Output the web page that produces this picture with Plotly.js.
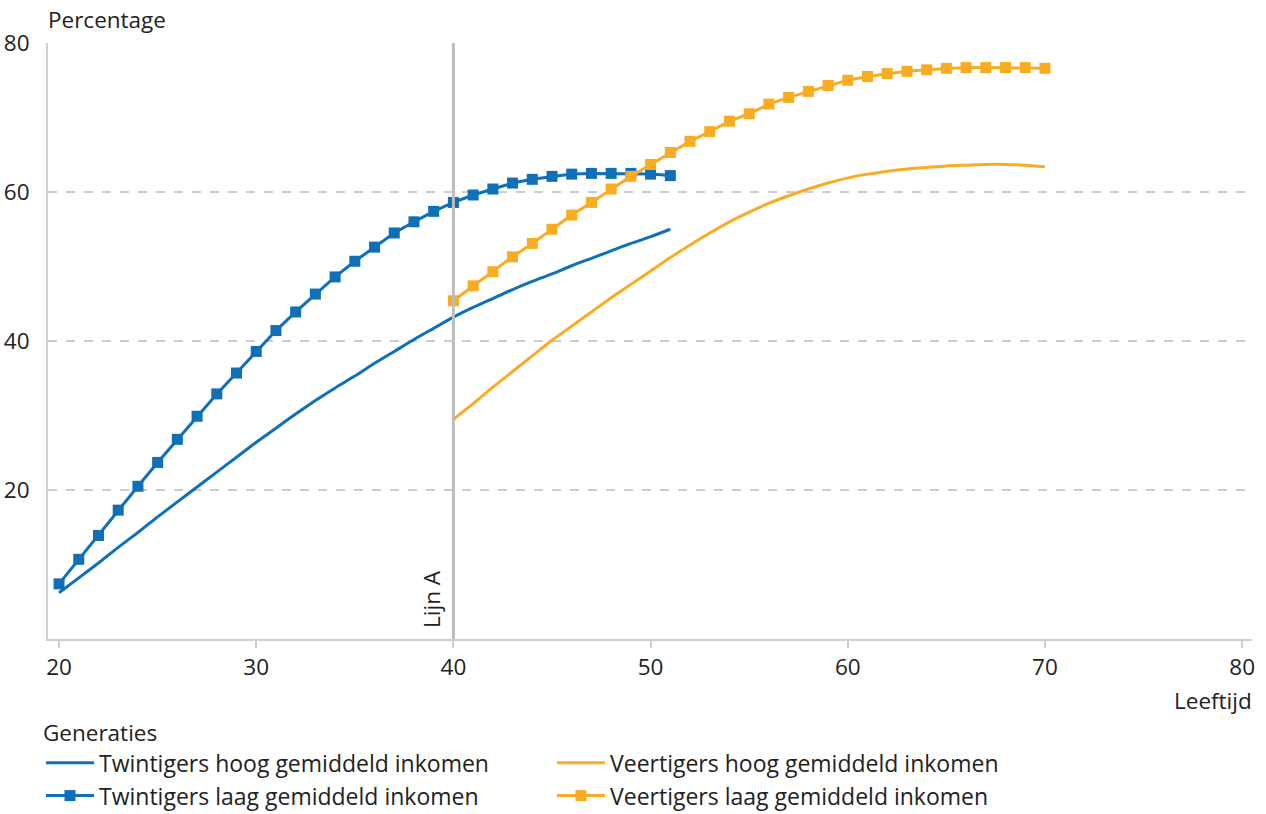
<!DOCTYPE html>
<html>
<head>
<meta charset="utf-8">
<script src="https://cdn.plot.ly/plotly-3.0.1.min.js"></script>
<style>
  html, body { margin: 0; padding: 0; background: #fff; }
  #chart { width: 1266px; height: 814px; }
</style>
</head>
<body>
<div id="chart"></div>
<script>
// ---- Data ----
const ageTwintigers = [20,21,22,23,24,25,26,27,28,29,30,31,32,33,34,35,36,37,38,39,40,41,42,43,44,45,46,47,48,49,50,51];
const twintigersHoog = [6.2,8.2,10.2,12.3,14.3,16.4,18.4,20.4,22.4,24.4,26.4,28.3,30.2,32.0,33.7,35.3,37.0,38.6,40.2,41.7,43.2,44.5,45.7,46.9,48.0,49.0,50.1,51.1,52.1,53.1,54.0,55.0];
const twintigersLaag = [7.4,10.7,13.9,17.3,20.5,23.7,26.8,29.9,32.9,35.7,38.6,41.4,43.9,46.3,48.6,50.7,52.6,54.5,56.0,57.4,58.6,59.6,60.4,61.2,61.7,62.1,62.4,62.5,62.5,62.5,62.4,62.2];

const ageVeertigers = [40,41,42,43,44,45,46,47,48,49,50,51,52,53,54,55,56,57,58,59,60,61,62,63,64,65,66,67,68,69,70];
const veertigersHoog = [29.5,31.6,33.8,35.9,38.0,40.1,42.0,43.9,45.8,47.6,49.4,51.2,52.9,54.5,56.0,57.3,58.5,59.5,60.4,61.2,61.9,62.4,62.8,63.1,63.3,63.5,63.6,63.7,63.7,63.6,63.4];
const veertigersLaag = [45.4,47.4,49.3,51.3,53.1,55.0,56.9,58.6,60.4,62.1,63.7,65.3,66.8,68.1,69.5,70.5,71.8,72.7,73.5,74.3,75.0,75.5,75.9,76.2,76.4,76.6,76.7,76.7,76.7,76.7,76.6];

const seriesNames = [
  'Twintigers hoog gemiddeld inkomen',
  'Veertigers hoog gemiddeld inkomen',
  'Twintigers laag gemiddeld inkomen',
  'Veertigers laag gemiddeld inkomen'
];
const xTicks = [20,30,40,50,60,70,80];
const yTicks = [20,40,60,80];
const refLineX = 40;
const refLineLabel = 'Lijn A';

// ---- Styling ----
const BLUE = '#0f6fb7';
const ORANGE = '#f9ac22';
const FONT = '"Open Sans", "Noto Sans", sans-serif';
const TEXT = '#222222';
const FS = 22.5;

const traces = [
  { x: ageTwintigers, y: twintigersHoog, name: seriesNames[0], mode: 'lines',
    line: { color: BLUE, width: 3, shape: 'spline', smoothing: 0.6 } },
  { x: ageVeertigers, y: veertigersHoog, name: seriesNames[1], mode: 'lines',
    line: { color: ORANGE, width: 3, shape: 'spline', smoothing: 0.6 } },
  { x: ageTwintigers, y: twintigersLaag, name: seriesNames[2], mode: 'lines+markers',
    line: { color: BLUE, width: 3 }, marker: { symbol: 'square', size: 11, color: BLUE } },
  { x: ageVeertigers, y: veertigersLaag, name: seriesNames[3], mode: 'lines+markers',
    line: { color: ORANGE, width: 3 }, marker: { symbol: 'square', size: 11, color: ORANGE } }
];

const layout = {
  width: 1266, height: 814,
  paper_bgcolor: '#fff', plot_bgcolor: '#fff',
  margin: { l: 48, r: 14, t: 43, b: 175, autoexpand: false },
  font: { family: FONT, size: FS, color: TEXT },
  showlegend: true,
  xaxis: {
    range: [19.44, 80.5], tickvals: xTicks, ticktext: xTicks.map(String),
    showgrid: false, zeroline: false,
    showline: true, linecolor: '#cfcfcf', linewidth: 2,
    ticks: 'outside', ticklen: 7, tickwidth: 2, tickcolor: '#cfcfcf',
    tickfont: { size: FS, color: TEXT }, fixedrange: true, automargin: false
  },
  yaxis: {
    range: [0, 80], tickvals: yTicks, ticktext: yTicks.map(String),
    showgrid: true, gridcolor: '#cccccc', griddash: 'dash', gridwidth: 1.5,
    zeroline: false, showline: true, linecolor: '#cfcfcf', linewidth: 2,
    ticks: '', ticklabelstandoff: 12,
    tickfont: { size: FS, color: TEXT }, fixedrange: true, automargin: false
  },
  shapes: [
    { type: 'line', xref: 'x', yref: 'y', x0: refLineX, x1: refLineX, y0: 0, y1: 80,
      line: { color: '#bdbdbd', width: 3 } }
  ],
  annotations: [
    { text: 'Percentage', xref: 'paper', yref: 'paper', x: 0, y: 1, xanchor: 'left', yanchor: 'bottom',
      yshift: 6, xshift: -2, showarrow: false, font: { size: FS, color: TEXT } },
    { text: 'Leeftijd', xref: 'paper', yref: 'paper', x: 1, y: 0, xanchor: 'right', yanchor: 'middle',
      yshift: -61, xshift: 2, showarrow: false, font: { size: FS, color: TEXT } },
    { text: refLineLabel, xref: 'x', yref: 'y', x: refLineX, y: 0, xanchor: 'right', yanchor: 'bottom',
      textangle: -90, xshift: -5, yshift: 9, showarrow: false, font: { size: FS, color: TEXT } }
  ],
  legend: {
    orientation: 'h', xref: 'container', yref: 'container',
    x: 41 / 1266, xanchor: 'left', y: 1 - 712 / 814, yanchor: 'top',
    entrywidth: 448, entrywidthmode: 'pixels',
    title: { text: 'Generaties', side: 'top', font: { size: FS, color: TEXT } },
    font: { size: 23, color: TEXT }, traceorder: 'normal', itemwidth: 48
  }
};

Plotly.newPlot('chart', traces, layout, { displayModeBar: false, staticPlot: true });
</script>
</body>
</html>
